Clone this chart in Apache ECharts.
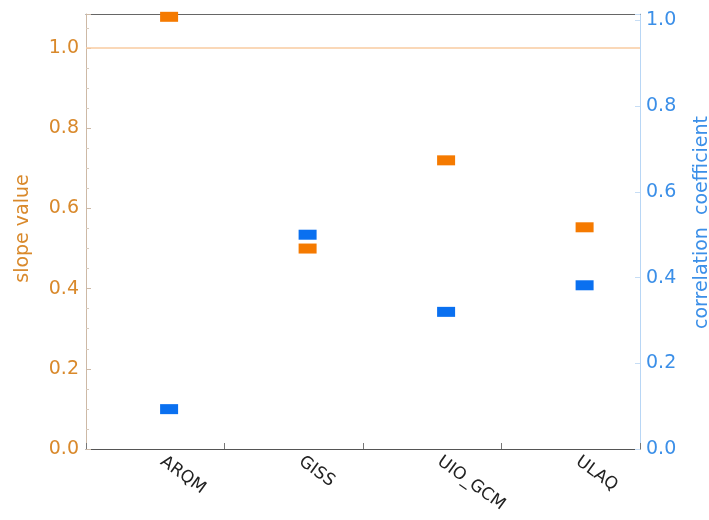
<!DOCTYPE html>
<html>
<head>
<meta charset="utf-8">
<script src="https://cdn.jsdelivr.net/npm/echarts@6/dist/echarts.min.js"></script>
<style>html,body{margin:0;padding:0;background:#fff}#c{width:709px;height:520px}</style>
</head>
<body>
<div id="c"></div>
<script>
const categories = ['ARQM', 'GISS', 'UIO_GCM', 'ULAQ'];
const slopeValues = [1.078, 0.50, 0.72, 0.553];
const corrValues = [0.093, 0.50, 0.32, 0.382];
const slopeTicks = [0.0, 0.2, 0.4, 0.6, 0.8, 1.0];
const corrTicks = [0.0, 0.2, 0.4, 0.6, 0.8, 1.0];

const FONT = 'DejaVu Sans';
const ORANGE = '#F57A00';
const BLUE = '#0A70F0';
const ORANGE_TXT = '#D9892B';
const BLUE_TXT = '#3B8FE8';

const chart = echarts.init(document.getElementById('c'), null, {renderer: 'canvas'});
const xMin = 0.4, xMax = 4.4;
const option = {
  animation: false,
  backgroundColor: '#ffffff',
  grid: {left: 86, right: 69, top: 14, bottom: 71, containLabel: false, outerBoundsMode: 'none'},
  xAxis: [
    {
      type: 'value', min: xMin, max: xMax, interval: 1, position: 'bottom',
      axisLine: {show: true, onZero: false, lineStyle: {color: '#555555', width: 1}},
      axisTick: {show: true, inside: true, length: 6, lineStyle: {color: '#777777'}},
      axisLabel: {show: false}, splitLine: {show: false}
    },
    {
      type: 'value', min: xMin + 0.05, max: xMax + 0.05, interval: 0.05, position: 'bottom',
      axisLine: {show: false, onZero: false}, axisTick: {show: false}, splitLine: {show: false},
      axisLabel: {
        show: true, rotate: -36, margin: 11, fontFamily: FONT, fontSize: 17, color: '#222222',
        formatter: function (v) {
          const r = Math.round(v * 100) / 100;
          const i = Math.round(r);
          return (Math.abs(r - i) < 1e-6 && i >= 1 && i <= categories.length) ? categories[i - 1] : '';
        }
      }
    },
    {
      type: 'value', min: xMin, max: xMax, position: 'top',
      axisLine: {show: true, onZero: false, lineStyle: {color: '#666666', width: 1.2}},
      axisTick: {show: false}, axisLabel: {show: false}, splitLine: {show: false}
    }
  ],
  yAxis: [
    {
      type: 'value', min: 0, max: 1.085, interval: 0.2, position: 'left',
      name: 'slope value', nameLocation: 'middle', nameRotate: 90, nameGap: 53,
      nameTextStyle: {color: ORANGE_TXT, fontFamily: FONT, fontSize: 19, padding: [0, 0, 0, 6]},
      axisLine: {show: true, onZero: false, lineStyle: {color: '#CDB9A6', width: 1}},
      axisTick: {show: true, inside: true, length: 5, lineStyle: {color: '#CDB9A6'}},
      minorTick: {show: true, splitNumber: 4, length: 3, lineStyle: {color: '#D8CABC'}},
      axisLabel: {
        show: true, margin: 7, fontFamily: FONT, fontSize: 19, color: ORANGE_TXT,
        formatter: function (v) {
          const t = slopeTicks.find(x => Math.abs(x - v) < 1e-6);
          return t === undefined ? '' : t.toFixed(1);
        }
      },
      splitLine: {show: false}
    },
    {
      type: 'value', min: 0, max: 1.015, interval: 0.2, position: 'right',
      name: 'correlation  coefficient', nameLocation: 'middle', nameRotate: 90, nameGap: 53,
      nameTextStyle: {color: BLUE_TXT, fontFamily: FONT, fontSize: 19, padding: [0, 0, 0, 18]},
      axisLine: {show: true, onZero: false, lineStyle: {color: '#B8D6F5', width: 1}},
      axisTick: {show: true, inside: true, length: 5, lineStyle: {color: '#C6DDF5'}},
      axisLabel: {
        show: true, margin: 6, fontFamily: FONT, fontSize: 19, color: BLUE_TXT,
        formatter: function (v) {
          const t = corrTicks.find(x => Math.abs(x - v) < 1e-6);
          return t === undefined ? '' : t.toFixed(1);
        }
      },
      splitLine: {show: false}
    }
  ],
  series: [
    {
      name: 'slope', type: 'scatter', xAxisIndex: 0, yAxisIndex: 0,
      symbol: 'rect', symbolSize: [18, 10],
      itemStyle: {color: ORANGE, opacity: 1},
      data: slopeValues.map((v, i) => [i + 1, v]),
      markLine: {
        silent: true, symbol: ['none', 'none'], label: {show: false},
        lineStyle: {color: '#F9CBA0', width: 1.5, type: 'solid', opacity: 1},
        data: [{yAxis: 1.0}]
      },
      z: 3
    },
    {
      name: 'correlation', type: 'scatter', xAxisIndex: 0, yAxisIndex: 1,
      symbol: 'rect', symbolSize: [18, 10],
      itemStyle: {color: BLUE, opacity: 1},
      data: corrValues.map((v, i) => [i + 1, v]),
      z: 3
    }
  ]
};
chart.setOption(option);
</script>
</body>
</html>
